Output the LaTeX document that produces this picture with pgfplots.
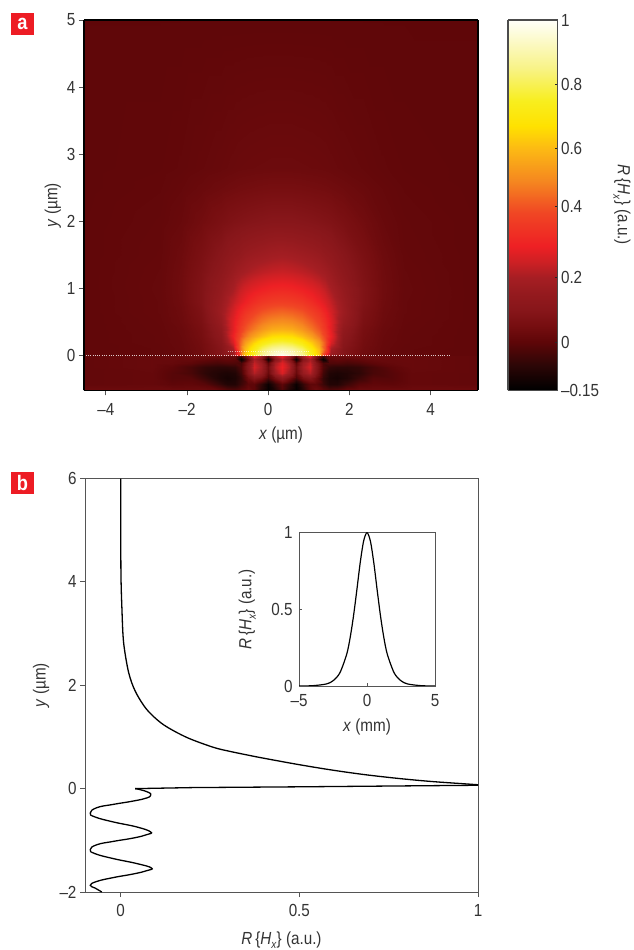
\documentclass[border=0pt]{standalone}
\usepackage{fontspec}
\setmainfont[FakeStretch=0.87]{Liberation Sans}
\usepackage{pgfplots}
\pgfplotsset{compat=1.18}
\definecolor{txt}{HTML}{333333}
\definecolor{tk}{HTML}{555555}
\definecolor{panelred}{HTML}{ED1C24}
\newcommand{\lab}{\fontsize{17.5}{19}\selectfont\color{txt}}
\newcommand{\Rh}{\textit{R}\,\{\textit{H}\raisebox{-0.25em}{\fontsize{11.5}{11.5}\selectfont\textit{x}}\}}
\pgfplotsset{
 colormap={field}{rgb255(0pt)=(0,0,0); rgb255(8pt)=(45,6,6); rgb255(15pt)=(94,6,8); rgb255(20pt)=(118,14,16); rgb255(25pt)=(135,22,26); rgb255(30pt)=(148,26,30); rgb255(35pt)=(165,30,35); rgb255(40pt)=(205,32,36); rgb255(45pt)=(238,32,36); rgb255(55pt)=(240,70,36); rgb255(65pt)=(245,135,32); rgb255(75pt)=(252,185,20); rgb255(82pt)=(255,225,0); rgb255(90pt)=(248,238,30); rgb255(100pt)=(248,243,135); rgb255(115pt)=(255,255,250)},
 common/.style={scale only axis, tick align=outside, tickpos=left,
  major tick length=5pt, tick style={color=tk,line width=0.9pt},
  tick label style={font=\lab}, label style={font=\lab},
  /pgf/number format/assume math mode=true},
}
\begin{document}
\begin{tikzpicture}[x=1pt,y=1pt]
\path[use as bounding box] (0,0) rectangle (633,950);

% panel letters
\node[fill=panelred,text=white,font=\fontsize{21}{21}\selectfont\bfseries,minimum width=23pt,minimum height=22pt,inner sep=0pt] at (22.5,926) {a};
\node[fill=panelred,text=white,font=\fontsize{21}{21}\selectfont\bfseries,minimum width=23pt,minimum height=22pt,inner sep=0pt] at (22.5,467) {b};

% ---------- panel a
\begin{axis}[common, at={(84pt,559.5pt)}, anchor=south west, width=394pt, height=370.5pt,
  view={0}{90}, xmin=-4.54, xmax=5.17, ymin=-0.515, ymax=5,
  xtick={-4,-2,0,2,4}, xticklabels={--4,--2,0,2,4},
  ytick={0,1,2,3,4,5},
  xticklabel style={yshift=-4pt},
  axis line style={color=black,line width=1.4pt},
  xlabel={\textit{x} (µm)}, ylabel={\textit{y} (µm)},
  x label style={at={(axis description cs:0.5,-0.119)},anchor=center},
  y label style={at={(axis description cs:-0.079,0.5)},anchor=center,rotate=0},
  point meta min=-0.15, point meta max=1,
  colormap name=field,
]
\addplot3[surf,shader=interp,mesh/cols=23] table[row sep=\\] {
x y z\\
-4.54 0 .005\\ -2.66 0 .01\\ -2.16 0 .015\\ -1.66 0 .035\\ -1.16 0 .09\\ -.86 0 .16\\ -.71 0 .33\\ -.56 0 .63\\ -.41 0 .74\\ -.16 0 .88\\ .09 0 .96\\ .34 0 1\\ .59 0 .96\\ .84 0 .88\\ 1.09 0 .74\\ 1.24 0 .63\\ 1.39 0 .33\\ 1.54 0 .16\\ 1.84 0 .09\\ 2.34 0 .035\\ 2.84 0 .015\\ 3.34 0 .01\\ 5.17 0 .005\\
-4.54 .1 .005\\ -2.66 .1 .01\\ -2.16 .1 .018\\ -1.66 .1 .04\\ -1.16 .1 .095\\ -.86 .1 .2\\ -.71 .1 .42\\ -.56 .1 .6\\ -.41 .1 .7\\ -.16 .1 .82\\ .09 .1 .88\\ .34 .1 .9\\ .59 .1 .88\\ .84 .1 .82\\ 1.09 .1 .7\\ 1.24 .1 .6\\ 1.39 .1 .42\\ 1.54 .1 .2\\ 1.84 .1 .095\\ 2.34 .1 .04\\ 2.84 .1 .018\\ 3.34 .1 .01\\ 5.17 .1 .005\\
-4.54 .2 .005\\ -2.66 .2 .012\\ -2.16 .2 .02\\ -1.66 .2 .045\\ -1.16 .2 .11\\ -.86 .2 .27\\ -.71 .2 .42\\ -.56 .2 .54\\ -.41 .2 .62\\ -.16 .2 .71\\ .09 .2 .76\\ .34 .2 .78\\ .59 .2 .76\\ .84 .2 .71\\ 1.09 .2 .62\\ 1.24 .2 .54\\ 1.39 .2 .42\\ 1.54 .2 .27\\ 1.84 .2 .11\\ 2.34 .2 .045\\ 2.84 .2 .02\\ 3.34 .2 .012\\ 5.17 .2 .005\\
-4.54 .3 .005\\ -2.66 .3 .012\\ -2.16 .3 .022\\ -1.66 .3 .05\\ -1.16 .3 .125\\ -.86 .3 .3\\ -.71 .3 .39\\ -.56 .3 .47\\ -.41 .3 .54\\ -.16 .3 .61\\ .09 .3 .66\\ .34 .3 .67\\ .59 .3 .66\\ .84 .3 .61\\ 1.09 .3 .54\\ 1.24 .3 .47\\ 1.39 .3 .39\\ 1.54 .3 .3\\ 1.84 .3 .125\\ 2.34 .3 .05\\ 2.84 .3 .022\\ 3.34 .3 .012\\ 5.17 .3 .005\\
-4.54 .4 .005\\ -2.66 .4 .013\\ -2.16 .4 .024\\ -1.66 .4 .055\\ -1.16 .4 .14\\ -.86 .4 .28\\ -.71 .4 .36\\ -.56 .4 .42\\ -.41 .4 .47\\ -.16 .4 .53\\ .09 .4 .57\\ .34 .4 .58\\ .59 .4 .57\\ .84 .4 .53\\ 1.09 .4 .47\\ 1.24 .4 .42\\ 1.39 .4 .36\\ 1.54 .4 .28\\ 1.84 .4 .14\\ 2.34 .4 .055\\ 2.84 .4 .024\\ 3.34 .4 .013\\ 5.17 .4 .005\\
-4.54 .5 .005\\ -2.66 .5 .014\\ -2.16 .5 .029\\ -1.66 .5 .064\\ -1.16 .5 .16\\ -.86 .5 .28\\ -.71 .5 .34\\ -.56 .5 .39\\ -.41 .5 .43\\ -.16 .5 .48\\ .09 .5 .51\\ .34 .5 .52\\ .59 .5 .51\\ .84 .5 .48\\ 1.09 .5 .43\\ 1.24 .5 .39\\ 1.39 .5 .34\\ 1.54 .5 .28\\ 1.84 .5 .16\\ 2.34 .5 .064\\ 2.84 .5 .029\\ 3.34 .5 .014\\ 5.17 .5 .005\\
-4.54 .65 .005\\ -2.66 .65 .016\\ -2.16 .65 .032\\ -1.66 .65 .072\\ -1.16 .65 .175\\ -.86 .65 .26\\ -.71 .65 .31\\ -.56 .65 .35\\ -.41 .65 .38\\ -.16 .65 .42\\ .09 .65 .44\\ .34 .65 .45\\ .59 .65 .44\\ .84 .65 .42\\ 1.09 .65 .38\\ 1.24 .65 .35\\ 1.39 .65 .31\\ 1.54 .65 .26\\ 1.84 .65 .175\\ 2.34 .65 .072\\ 2.84 .65 .032\\ 3.34 .65 .016\\ 5.17 .65 .005\\
-4.54 .8 .005\\ -2.66 .8 .016\\ -2.16 .8 .036\\ -1.66 .8 .082\\ -1.16 .8 .165\\ -.86 .8 .235\\ -.71 .8 .27\\ -.56 .8 .3\\ -.41 .8 .33\\ -.16 .8 .36\\ .09 .8 .375\\ .34 .8 .38\\ .59 .8 .375\\ .84 .8 .36\\ 1.09 .8 .33\\ 1.24 .8 .3\\ 1.39 .8 .27\\ 1.54 .8 .235\\ 1.84 .8 .165\\ 2.34 .8 .082\\ 2.84 .8 .036\\ 3.34 .8 .016\\ 5.17 .8 .005\\
-4.54 1 .005\\ -2.66 1 .017\\ -2.16 1 .038\\ -1.66 1 .082\\ -1.16 1 .15\\ -.86 1 .2\\ -.71 1 .235\\ -.56 1 .26\\ -.41 1 .28\\ -.16 1 .3\\ .09 1 .315\\ .34 1 .32\\ .59 1 .315\\ .84 1 .3\\ 1.09 1 .28\\ 1.24 1 .26\\ 1.39 1 .235\\ 1.54 1 .2\\ 1.84 1 .15\\ 2.34 1 .082\\ 2.84 1 .038\\ 3.34 1 .017\\ 5.17 1 .005\\
-4.54 1.25 .005\\ -2.66 1.25 .016\\ -2.16 1.25 .036\\ -1.66 1.25 .074\\ -1.16 1.25 .125\\ -.86 1.25 .165\\ -.71 1.25 .185\\ -.56 1.25 .2\\ -.41 1.25 .215\\ -.16 1.25 .23\\ .09 1.25 .24\\ .34 1.25 .245\\ .59 1.25 .24\\ .84 1.25 .23\\ 1.09 1.25 .215\\ 1.24 1.25 .2\\ 1.39 1.25 .185\\ 1.54 1.25 .165\\ 1.84 1.25 .125\\ 2.34 1.25 .074\\ 2.84 1.25 .036\\ 3.34 1.25 .016\\ 5.17 1.25 .005\\
-4.54 1.5 .005\\ -2.66 1.5 .014\\ -2.16 1.5 .032\\ -1.66 1.5 .064\\ -1.16 1.5 .105\\ -.86 1.5 .135\\ -.71 1.5 .145\\ -.56 1.5 .16\\ -.41 1.5 .17\\ -.16 1.5 .18\\ .09 1.5 .19\\ .34 1.5 .195\\ .59 1.5 .19\\ .84 1.5 .18\\ 1.09 1.5 .17\\ 1.24 1.5 .16\\ 1.39 1.5 .145\\ 1.54 1.5 .135\\ 1.84 1.5 .105\\ 2.34 1.5 .064\\ 2.84 1.5 .032\\ 3.34 1.5 .014\\ 5.17 1.5 .005\\
-4.54 2 .005\\ -2.66 2 .012\\ -2.16 2 .022\\ -1.66 2 .042\\ -1.16 2 .065\\ -.86 2 .08\\ -.71 2 .085\\ -.56 2 .09\\ -.41 2 .095\\ -.16 2 .1\\ .09 2 .105\\ .34 2 .105\\ .59 2 .105\\ .84 2 .1\\ 1.09 2 .095\\ 1.24 2 .09\\ 1.39 2 .085\\ 1.54 2 .08\\ 1.84 2 .065\\ 2.34 2 .042\\ 2.84 2 .022\\ 3.34 2 .012\\ 5.17 2 .005\\
-4.54 2.5 .004\\ -2.66 2.5 .009\\ -2.16 2.5 .015\\ -1.66 2.5 .024\\ -1.16 2.5 .034\\ -.86 2.5 .04\\ -.71 2.5 .043\\ -.56 2.5 .045\\ -.41 2.5 .047\\ -.16 2.5 .05\\ .09 2.5 .052\\ .34 2.5 .052\\ .59 2.5 .052\\ .84 2.5 .05\\ 1.09 2.5 .047\\ 1.24 2.5 .045\\ 1.39 2.5 .043\\ 1.54 2.5 .04\\ 1.84 2.5 .034\\ 2.34 2.5 .024\\ 2.84 2.5 .015\\ 3.34 2.5 .009\\ 5.17 2.5 .004\\
-4.54 2.8 .004\\ -2.66 2.8 .007\\ -2.16 2.8 .01\\ -1.66 2.8 .015\\ -1.16 2.8 .02\\ -.86 2.8 .024\\ -.71 2.8 .026\\ -.56 2.8 .027\\ -.41 2.8 .028\\ -.16 2.8 .029\\ .09 2.8 .03\\ .34 2.8 .03\\ .59 2.8 .03\\ .84 2.8 .029\\ 1.09 2.8 .028\\ 1.24 2.8 .027\\ 1.39 2.8 .026\\ 1.54 2.8 .024\\ 1.84 2.8 .02\\ 2.34 2.8 .015\\ 2.84 2.8 .01\\ 3.34 2.8 .007\\ 5.17 2.8 .004\\
-4.54 5 .003\\ -2.66 5 .003\\ -2.16 5 .003\\ -1.66 5 .003\\ -1.16 5 .003\\ -.86 5 .003\\ -.71 5 .003\\ -.56 5 .003\\ -.41 5 .003\\ -.16 5 .003\\ .09 5 .003\\ .34 5 .003\\ .59 5 .003\\ .84 5 .003\\ 1.09 5 .003\\ 1.24 5 .003\\ 1.39 5 .003\\ 1.54 5 .003\\ 1.84 5 .003\\ 2.34 5 .003\\ 2.84 5 .003\\ 3.34 5 .003\\ 5.17 5 .003\\
};
\addplot3[surf,shader=interp,mesh/cols=29] table[row sep=\\] {
x y z\\
-4.54 -.515 .03\\ -2.86 -.515 .03\\ -2.36 -.515 .03\\ -1.91 -.515 .03\\ -1.56 -.515 .03\\ -1.26 -.515 .02\\ -1.01 -.515 -.01\\ -.81 -.515 -.02\\ -.66 -.515 0\\ -.51 -.515 .03\\ -.34 -.515 0\\ -.18 -.515 -.08\\ -.01 -.515 -.14\\ .17 -.515 -.09\\ .34 -.515 -.02\\ .51 -.515 -.09\\ .69 -.515 -.14\\ .86 -.515 -.08\\ 1.02 -.515 0\\ 1.19 -.515 .03\\ 1.34 -.515 0\\ 1.49 -.515 -.02\\ 1.69 -.515 -.01\\ 1.94 -.515 .02\\ 2.24 -.515 .03\\ 2.59 -.515 .03\\ 3.04 -.515 .03\\ 3.54 -.515 .03\\ 5.17 -.515 .03\\
-4.54 -.42 .01\\ -2.86 -.42 .015\\ -2.36 -.42 0\\ -1.91 -.42 .005\\ -1.56 -.42 -.01\\ -1.26 -.42 -.05\\ -1.01 -.42 -.09\\ -.81 -.42 -.09\\ -.66 -.42 -.05\\ -.51 -.42 0\\ -.34 -.42 0\\ -.18 -.42 -.06\\ -.01 -.42 -.13\\ .17 -.42 -.06\\ .34 -.42 0\\ .51 -.42 -.06\\ .69 -.42 -.13\\ .86 -.42 -.06\\ 1.02 -.42 0\\ 1.19 -.42 0\\ 1.34 -.42 -.05\\ 1.49 -.42 -.09\\ 1.69 -.42 -.09\\ 1.94 -.42 -.05\\ 2.24 -.42 -.01\\ 2.59 -.42 .005\\ 3.04 -.42 0\\ 3.54 -.42 .015\\ 5.17 -.42 .01\\
-4.54 -.33 .01\\ -2.86 -.33 .015\\ -2.36 -.33 -.01\\ -1.91 -.33 -.01\\ -1.56 -.33 -.05\\ -1.26 -.33 -.09\\ -1.01 -.33 -.11\\ -.81 -.33 -.1\\ -.66 -.33 -.06\\ -.51 -.33 .04\\ -.34 -.33 .1\\ -.18 -.33 .06\\ -.01 -.33 -.03\\ .17 -.33 .06\\ .34 -.33 .14\\ .51 -.33 .06\\ .69 -.33 -.03\\ .86 -.33 .06\\ 1.02 -.33 .1\\ 1.19 -.33 .04\\ 1.34 -.33 -.06\\ 1.49 -.33 -.1\\ 1.69 -.33 -.11\\ 1.94 -.33 -.09\\ 2.24 -.33 -.05\\ 2.59 -.33 -.01\\ 3.04 -.33 -.01\\ 3.54 -.33 .015\\ 5.17 -.33 .01\\
-4.54 -.25 .01\\ -2.86 -.25 .015\\ -2.36 -.25 -.01\\ -1.91 -.25 -.03\\ -1.56 -.25 -.07\\ -1.26 -.25 -.09\\ -1.01 -.25 -.1\\ -.81 -.25 -.09\\ -.66 -.25 -.04\\ -.51 -.25 .1\\ -.34 -.25 .22\\ -.18 -.25 .16\\ -.01 -.25 .02\\ .17 -.25 .18\\ .34 -.25 .27\\ .51 -.25 .18\\ .69 -.25 .02\\ .86 -.25 .16\\ 1.02 -.25 .22\\ 1.19 -.25 .1\\ 1.34 -.25 -.04\\ 1.49 -.25 -.09\\ 1.69 -.25 -.1\\ 1.94 -.25 -.09\\ 2.24 -.25 -.07\\ 2.59 -.25 -.03\\ 3.04 -.25 -.01\\ 3.54 -.25 .015\\ 5.17 -.25 .01\\
-4.54 -.17 .01\\ -2.86 -.17 .02\\ -2.36 -.17 0\\ -1.91 -.17 -.03\\ -1.56 -.17 -.06\\ -1.26 -.17 -.07\\ -1.01 -.17 -.07\\ -.81 -.17 -.06\\ -.66 -.17 -.02\\ -.51 -.17 .12\\ -.34 -.17 .26\\ -.18 -.17 .2\\ -.01 -.17 .04\\ .17 -.17 .22\\ .34 -.17 .3\\ .51 -.17 .22\\ .69 -.17 .04\\ .86 -.17 .2\\ 1.02 -.17 .26\\ 1.19 -.17 .12\\ 1.34 -.17 -.02\\ 1.49 -.17 -.06\\ 1.69 -.17 -.07\\ 1.94 -.17 -.07\\ 2.24 -.17 -.06\\ 2.59 -.17 -.03\\ 3.04 -.17 0\\ 3.54 -.17 .02\\ 5.17 -.17 .01\\
-4.54 -.1 .01\\ -2.86 -.1 .02\\ -2.36 -.1 .015\\ -1.91 -.1 0\\ -1.56 -.1 -.02\\ -1.26 -.1 -.03\\ -1.01 -.1 -.02\\ -.81 -.1 -.02\\ -.66 -.1 -.03\\ -.51 -.1 .1\\ -.34 -.1 .24\\ -.18 -.1 .18\\ -.01 -.1 0\\ .17 -.1 .2\\ .34 -.1 .28\\ .51 -.1 .2\\ .69 -.1 0\\ .86 -.1 .18\\ 1.02 -.1 .24\\ 1.19 -.1 .1\\ 1.34 -.1 -.03\\ 1.49 -.1 -.02\\ 1.69 -.1 -.02\\ 1.94 -.1 -.03\\ 2.24 -.1 -.02\\ 2.59 -.1 0\\ 3.04 -.1 .015\\ 3.54 -.1 .02\\ 5.17 -.1 .01\\
-4.54 -.04 .01\\ -2.86 -.04 .02\\ -2.36 -.04 .02\\ -1.91 -.04 .02\\ -1.56 -.04 .01\\ -1.26 -.04 0\\ -1.01 -.04 .01\\ -.81 -.04 0\\ -.66 -.04 -.14\\ -.51 -.04 .02\\ -.34 -.04 .2\\ -.18 -.04 .1\\ -.01 -.04 -.13\\ .17 -.04 .1\\ .34 -.04 .22\\ .51 -.04 .1\\ .69 -.04 -.13\\ .86 -.04 .1\\ 1.02 -.04 .2\\ 1.19 -.04 .02\\ 1.34 -.04 -.14\\ 1.49 -.04 0\\ 1.69 -.04 .01\\ 1.94 -.04 0\\ 2.24 -.04 .01\\ 2.59 -.04 .02\\ 3.04 -.04 .02\\ 3.54 -.04 .02\\ 5.17 -.04 .01\\
-4.54 0 .01\\ -2.86 0 .02\\ -2.36 0 .02\\ -1.91 0 .03\\ -1.56 0 .03\\ -1.26 0 .03\\ -1.01 0 .02\\ -.81 0 .02\\ -.66 0 -.05\\ -.51 0 .1\\ -.34 0 .3\\ -.18 0 .2\\ -.01 0 0\\ .17 0 .2\\ .34 0 .3\\ .51 0 .2\\ .69 0 0\\ .86 0 .2\\ 1.02 0 .3\\ 1.19 0 .1\\ 1.34 0 -.05\\ 1.49 0 .02\\ 1.69 0 .02\\ 1.94 0 .03\\ 2.24 0 .03\\ 2.59 0 .03\\ 3.04 0 .02\\ 3.54 0 .02\\ 5.17 0 .01\\
};
\addplot3[white,line width=0.9pt,dash pattern=on 1pt off 1.3pt,opacity=0.8] coordinates {(-4.5,0,1) (4.5,0,1)};
\addplot3[white,line width=0.9pt,dash pattern=on 1pt off 1.3pt,opacity=0.6] coordinates {(-1,0.07,1) (1,0.07,1)};
\end{axis}

% ---------- colour bar of panel a
\begin{axis}[common, at={(508pt,559.5pt)}, anchor=south west, width=49.5pt, height=370.5pt,
  view={0}{90}, xmin=0, xmax=1, ymin=-0.15, ymax=1, xtick=\empty,
  tickpos=right, tick align=inside, major tick length=3pt,
  ytick={-0.15,0,0.2,0.42,0.6,0.8,1}, yticklabels={--0.15,0,0.2,0.4,0.6,0.8,1},
  tick style={color=black!85,line width=1pt},
  axis line style={color=black!70,line width=1.1pt},
  yticklabel pos=right,
  point meta min=-0.15, point meta max=1, colormap name=field,
]
\addplot3[surf,shader=interp,mesh/cols=2] table[row sep=\\] {
x y z\\
0 -.15 -.15\\ 1 -.15 -.15\\ 0 -.07 -.07\\ 1 -.07 -.07\\ 0 0 0\\ 1 0 0\\ 0 .05 .05\\ 1 .05 .05\\ 0 .1 .1\\ 1 .1 .1\\ 0 .15 .15\\ 1 .15 .15\\ 0 .2 .2\\ 1 .2 .2\\ 0 .25 .25\\ 1 .25 .25\\ 0 .3 .3\\ 1 .3 .3\\ 0 .4 .4\\ 1 .4 .4\\ 0 .5 .5\\ 1 .5 .5\\ 0 .6 .6\\ 1 .6 .6\\ 0 .67 .67\\ 1 .67 .67\\ 0 .75 .75\\ 1 .75 .75\\ 0 .85 .85\\ 1 .85 .85\\ 0 1 1\\ 1 1 1\\
};
\end{axis}
\node[rotate=-90,font=\lab] at (622,745) {\Rh{} (a.u.)};

% ---------- panel b
\begin{axis}[common, at={(85pt,58pt)}, anchor=south west, width=393pt, height=413.5pt,
  xmin=-0.1, xmax=1, ymin=-2, ymax=6,
  xtick={0,0.5,1}, xticklabels={0,0.5,1},
  ytick={-2,0,2,4,6}, yticklabels={--2,0,2,4,6},
  xticklabel style={yshift=-4pt},
  axis line style={color=tk,line width=0.9pt},
  xlabel={\Rh{} (a.u.)}, ylabel={\textit{y} (µm)},
  x label style={at={(axis description cs:0.5,-0.116)},anchor=center},
  y label style={at={(axis description cs:-0.112,0.5)},anchor=center,rotate=0},
]
\addplot[black,line width=1.3pt,smooth,tension=0.5] coordinates {
(0,6) (0.0005,4.24) (0.0034,3.47) (0.008,2.83) (0.022,2.25) (0.041,1.88) (0.073,1.53) (0.119,1.24) (0.185,0.99) (0.259,0.80) (0.306,0.72) (0.362,0.64) (0.399,0.59) (0.494,0.47) (0.586,0.365) (0.678,0.275) (0.773,0.20) (0.866,0.14) (0.958,0.095) (1,0.075)};
\addplot[black,line width=1.3pt] coordinates {(1,0.065) (0.5,0.035) (0.2,0.02) (0.0404,0)};
\addplot[black,line width=1.3pt,smooth,tension=0.8] coordinates {
(0.0404,0) (0.0541,-0.019) (0.0774,-0.071) (0.084,-0.122) (0.073,-0.18) (0.036,-0.239) (-0.02,-0.304) (-0.0667,-0.368) (-0.0853,-0.472) (-0.0713,-0.55) (-0.02,-0.646) (0.0452,-0.742) (0.084,-0.839) (0.073,-0.89) (0.036,-0.955) (-0.02,-1.02) (-0.0667,-1.085) (-0.0853,-1.18) (-0.0713,-1.26) (-0.02,-1.355) (0.0452,-1.45) (0.086,-1.535) (0.073,-1.587) (0.036,-1.65) (-0.02,-1.72) (-0.0667,-1.795) (-0.0853,-1.87) (-0.0713,-1.925) (-0.053,-2)};
\end{axis}

% ---------- inset
\begin{axis}[common, at={(299pt,264pt)}, anchor=south west, width=136pt, height=153.3pt,
  xmin=-5, xmax=5, ymin=0, ymax=1, tick align=inside, major tick length=3pt,
  xtick={-5,0,5}, xticklabels={--5,0,5},
  ytick={0,0.5,1}, yticklabels={0,0.5,1},
  xticklabel style={yshift=-5pt}, yticklabel style={xshift=-3pt},
  axis line style={color=tk,line width=0.9pt},
  xlabel={\textit{x} (mm)}, ylabel={\Rh{} (a.u.)},
  x label style={at={(axis description cs:0.5,-0.27)},anchor=center},
  y label style={at={(axis description cs:-0.38,0.5)},anchor=center,rotate=0},
]
\addplot[black,line width=1.2pt,smooth] coordinates {
(-5,0) (-4,0.002) (-3,0.013) (-2.5,0.034) (-2,0.085) (-1.5,0.205) (-1.25,0.31) (-1,0.452) (-0.75,0.624) (-0.5,0.804) (-0.25,0.945) (0,1) (0.25,0.945) (0.5,0.804) (0.75,0.624) (1,0.452) (1.25,0.31) (1.5,0.205) (2,0.085) (2.5,0.034) (3,0.013) (4,0.002) (5,0)};
\end{axis}
\end{tikzpicture}
\end{document}
